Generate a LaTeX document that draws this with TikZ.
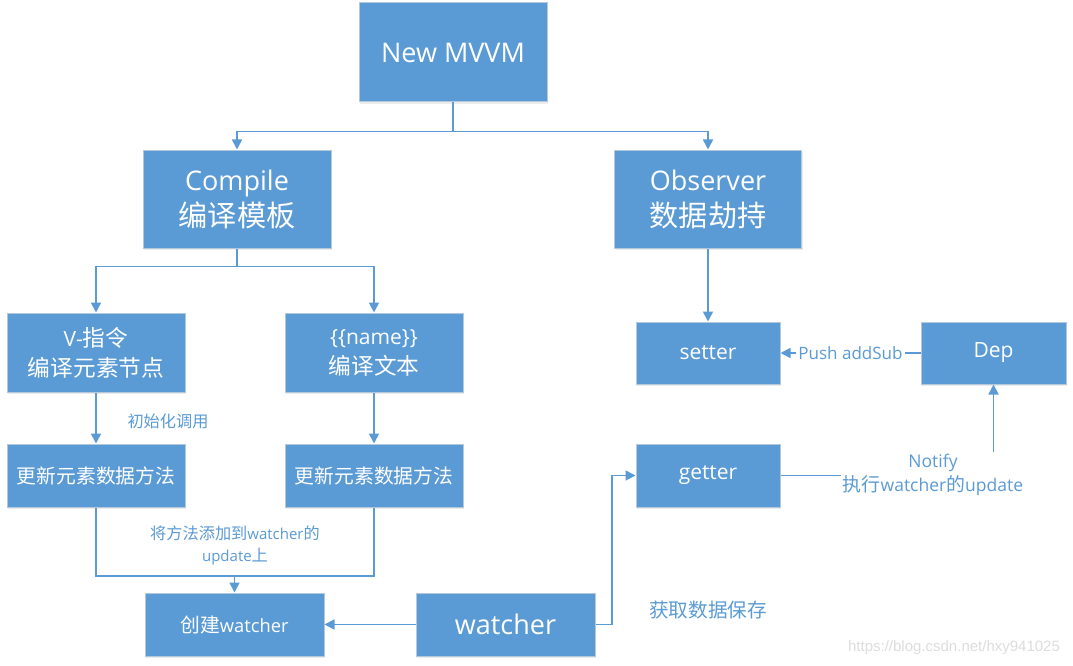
\documentclass[tikz,border=0pt]{standalone}
\usepackage{fontspec}
\setmainfont{Open Sans}
\newfontfamily\cjk[Scale=1.08]{Noto Sans CJK SC}
\newfontfamily\wmfont{Liberation Sans}
\newcommand\zh[1]{{\cjk #1}}
\usetikzlibrary{arrows.meta,shadows}
\definecolor{boxblue}{HTML}{5B9BD5}
\definecolor{boxedge}{HTML}{B4C8DC}
\definecolor{wmgray}{HTML}{DDDDDD}
\begin{document}
\begin{tikzpicture}[x=1pt,y=-1pt,
  box/.style={draw=boxedge, line width=1pt, fill=boxblue, text=white, inner sep=0pt, align=center,
    drop shadow={opacity=0.15, shadow xshift=1pt, shadow yshift=-2pt}},
  fbig/.style={font=\fontsize{27}{36}\selectfont},
  fmed/.style={font=\fontsize{21}{30}\selectfont},
  fupd/.style={font=\fontsize{18.3}{24}\selectfont},
  flab/.style={font=\fontsize{15}{22}\selectfont, text=boxblue, align=center},
  line/.style={draw=boxblue, line width=1.7pt},
  conn/.style={line, -{Triangle[length=10pt,width=10pt]}},
  tag/.style={fill=white, inner sep=2pt, text=boxblue, align=center}
]
\fill[white] (0,0) rectangle (1073,666);
\useasboundingbox (0,0) rectangle (1073,666);

% boxes
\node[box, fbig, minimum width=188pt, minimum height=99pt] (mvvm) at (453,52.5) {New MVVM};
\node[box, fbig, minimum width=188pt, minimum height=98pt] (compile) at (237,199) {Compile\\\zh{编译模板}};
\node[box, fbig, minimum width=187pt, minimum height=98pt] (observer) at (708,199) {Observer\\\zh{数据劫持}};
\node[box, fmed, minimum width=178pt, minimum height=79pt] (vcmd) at (96,352.5) {V-\zh{指令}\\\zh{编译元素节点}};
\node[box, fmed, minimum width=178pt, minimum height=79pt] (tname) at (374,352.5) {\{\{name\}\}\\\zh{编译文本}};
\node[box, fupd, minimum width=178pt, minimum height=63pt] (upd1) at (96,475.5) {\zh{更新元素数据方法}};
\node[box, fupd, minimum width=178pt, minimum height=63pt] (upd2) at (374,475.5) {\zh{更新元素数据方法}};
\node[box, fupd, minimum width=179pt, minimum height=63pt] (create) at (234.5,624.5) {\zh{创建}watcher};
\node[box, fbig, minimum width=179pt, minimum height=63pt] (watcher) at (505.5,624.5) {watcher};
\node[box, fmed, minimum width=144pt, minimum height=62pt] (setter) at (708,353) {setter};
\node[box, fmed, minimum width=145pt, minimum height=62pt] (dep) at (993.5,353) {Dep};
\node[box, fmed, minimum width=144pt, minimum height=63pt] (getter) at (708,475.5) {getter};

% connectors
\draw[line] (mvvm.south) -- ++(0,29) coordinate (j1);
\draw[conn] (j1) -| (compile.north);
\draw[conn] (j1) -| (observer.north);
\draw[line] (compile.south) -- ++(0,18) coordinate (j2);
\draw[conn] (j2) -| (vcmd.north);
\draw[conn] (j2) -| (tname.north);
\draw[conn] (vcmd.south) -- (upd1.north);
\draw[conn] (tname.south) -- (upd2.north);
\coordinate (j3) at (234.5,576);
\draw[line] (upd1.south) |- (j3) -| (upd2.south);
\draw[conn] (j3) -- (create.north);
\draw[conn] (observer.south) -- (setter.north);
\draw[conn] (dep.west) -- node[tag, font=\fontsize{17}{22}\selectfont] (push) {Push addSub} (setter.east);
\draw[conn] (getter.east) -| (dep.south);
\node[tag, font=\fontsize{17.5}{24}\selectfont] (notify) at (933,475) {Notify\\\zh{执行}watcher\zh{的}update};
\draw[conn] (watcher.east) -- ++(16.5,0) |- (getter.west);
\draw[conn] (watcher.west) -- (create.east);

% labels
\node[flab] (l1) at (168,421) {\zh{初始化调用}};
\node[flab] (l2) at (235,545.5) {\zh{将方法添加到}watcher\zh{的}\\update\zh{上}};
\node[flab, font=\fontsize{18.2}{22}\selectfont] (l3) at (708,610) {\zh{获取数据保存}};
\node[text=wmgray, font=\wmfont\fontsize{15}{18}\selectfont] (wm) at (954,648) {https://blog.csdn.net/hxy941025};
\end{tikzpicture}
\end{document}
